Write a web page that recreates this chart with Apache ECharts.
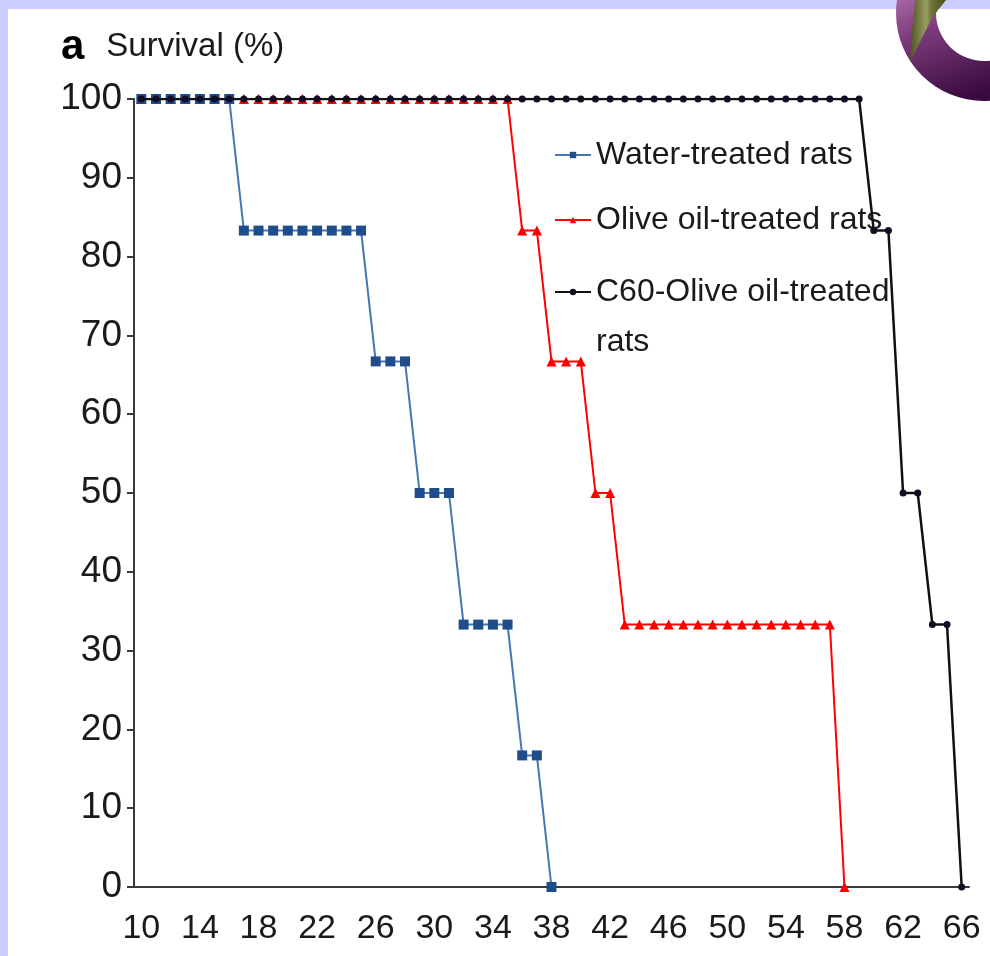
<!DOCTYPE html>
<html>
<head>
<meta charset="utf-8">
<script src="https://cdn.jsdelivr.net/npm/echarts@6/dist/echarts.min.js"></script>
<style>
html,body{margin:0;padding:0;background:#ccccff;}
#chart{width:990px;height:956px;}
</style>
</head>
<body>
<div id="chart"></div>
<script>
// Days (category axis)
const days = ['10','11','12','13','14','15','16','17','18','19','20','21','22','23','24','25','26','27','28','29','30','31','32','33','34','35','36','37','38','39','40','41','42','43','44','45','46','47','48','49','50','51','52','53','54','55','56','57','58','59','60','61','62','63','64','65','66'];
// Survival (%) per day, starting at day 10
const waterTreated = [100,100,100,100,100,100,100, 83.3,83.3,83.3,83.3,83.3,83.3,83.3,83.3,83.3, 66.7,66.7,66.7, 50,50,50, 33.3,33.3,33.3,33.3, 16.7,16.7, 0];
const oliveOilTreated = [100,100,100,100,100,100,100,100,100,100,100,100,100,100,100,100,100,100,100,100,100,100,100,100,100,100, 83.3,83.3, 66.7,66.7,66.7, 50,50, 33.3,33.3,33.3,33.3,33.3,33.3,33.3,33.3,33.3,33.3,33.3,33.3,33.3,33.3,33.3, 0];
const c60OliveOilTreated = [100,100,100,100,100,100,100,100,100,100,100,100,100,100,100,100,100,100,100,100,100,100,100,100,100,100,100,100,100,100,100,100,100,100,100,100,100,100,100,100,100,100,100,100,100,100,100,100,100,100, 83.3,83.3, 50,50, 33.3,33.3, 0];
const yTicks = {min: 0, max: 100, interval: 10};
const seriesNames = ['Water-treated rats', 'Olive oil-treated rats', 'C60-Olive oil-treated'];

const FONT = '"Liberation Sans", Arial, sans-serif';
const chart = echarts.init(document.getElementById('chart'));

function legendAt(name, top) {
  return {
    data: [name], left: 554, top: top, orient: 'vertical', padding: 0,
    itemWidth: 36, itemHeight: 8, itemGap: 0, selectedMode: false,
    textStyle: {fontFamily: FONT, fontSize: 32, color: '#1a1a1a', lineHeight: 36}
  };
}

chart.setOption({
  backgroundColor: '#ccccff',
  animation: false,
  graphic: [
    {type: 'rect', z: -10, shape: {x: 8, y: 9, width: 990, height: 960}, style: {fill: '#ffffff'}},
    {type: 'sector', z: 100, shape: {cx: 984, cy: 13, r: 88, r0: 48, startAngle: 0, endAngle: Math.PI * 2},
      style: {fill: {type: 'linear', x: 0, y: 0, x2: 0.35, y2: 1, colorStops: [
        {offset: 0.0, color: '#e0b4de'}, {offset: 0.3, color: '#b676b4'}, {offset: 0.6, color: '#7a3a7a'}, {offset: 1, color: '#3a0a40'}]}}},
    {type: 'polygon', z: 101, shape: {points: [[910, 62], [911, 45], [912, 30], [914, 12], [915, 0], [946, 0], [938, 10], [930, 22], [922, 38], [915, 52]]},
      style: {fill: {type: 'linear', x: 0, y: 0, x2: 1, y2: 0, colorStops: [
        {offset: 0, color: '#4f5122'}, {offset: 0.45, color: '#9a9d62'}, {offset: 0.6, color: '#6f7238'}, {offset: 1, color: '#4b4d1c'}]}}},
    {type: 'text', left: 596, top: 326, style: {text: 'rats', font: '32px ' + FONT, fill: '#1a1a1a'}}
  ],
  title: {
    text: '{a|a}{b|Survival (%)}', left: 61, top: 26, padding: 0,
    textStyle: {rich: {
      a: {fontFamily: FONT, fontSize: 42, fontWeight: 'bold', color: '#000'},
      b: {fontFamily: FONT, fontSize: 33, fontWeight: 'normal', color: '#1a1a1a', padding: [0, 0, 0, 22]}
    }}
  },
  legend: [legendAt(seriesNames[0], 137), legendAt(seriesNames[1], 202), legendAt(seriesNames[2], 274)],
  grid: {left: 134, right: 21, top: 99, bottom: 69, containLabel: false},
  xAxis: {
    type: 'category', data: days, boundaryGap: true,
    axisLine: {lineStyle: {color: '#3a3a3a', width: 2}},
    axisTick: {interval: 0, length: 8, lineStyle: {color: '#3a3a3a', width: 2}},
    axisLabel: {interval: 3, margin: 25, fontFamily: FONT, fontSize: 34, color: '#1a1a1a'},
    splitLine: {show: false}
  },
  yAxis: {
    type: 'value', min: yTicks.min, max: yTicks.max, interval: yTicks.interval,
    axisLine: {show: true, lineStyle: {color: '#3a3a3a', width: 2}},
    axisTick: {show: true, length: 7, lineStyle: {color: '#3a3a3a', width: 2}},
    axisLabel: {margin: 12, fontFamily: FONT, fontSize: 37, color: '#1a1a1a'},
    splitLine: {show: false}
  },
  series: [
    {name: seriesNames[1], type: 'line', data: oliveOilTreated, z: 2,
      symbol: 'triangle', symbolSize: 10, showAllSymbol: true,
      lineStyle: {color: '#ff0000', width: 2}, itemStyle: {color: '#ff0000'}},
    {name: seriesNames[0], type: 'line', data: waterTreated, z: 3,
      symbol: 'rect', symbolSize: 10, showAllSymbol: true,
      lineStyle: {color: '#4677b3', width: 2}, itemStyle: {color: '#1f4d8c'}},
    {name: seriesNames[2], type: 'line', data: c60OliveOilTreated, z: 4,
      symbol: 'circle', symbolSize: 7, showAllSymbol: true,
      lineStyle: {color: '#111111', width: 2.5}, itemStyle: {color: '#140c24'}}
  ]
});
</script>
</body>
</html>
